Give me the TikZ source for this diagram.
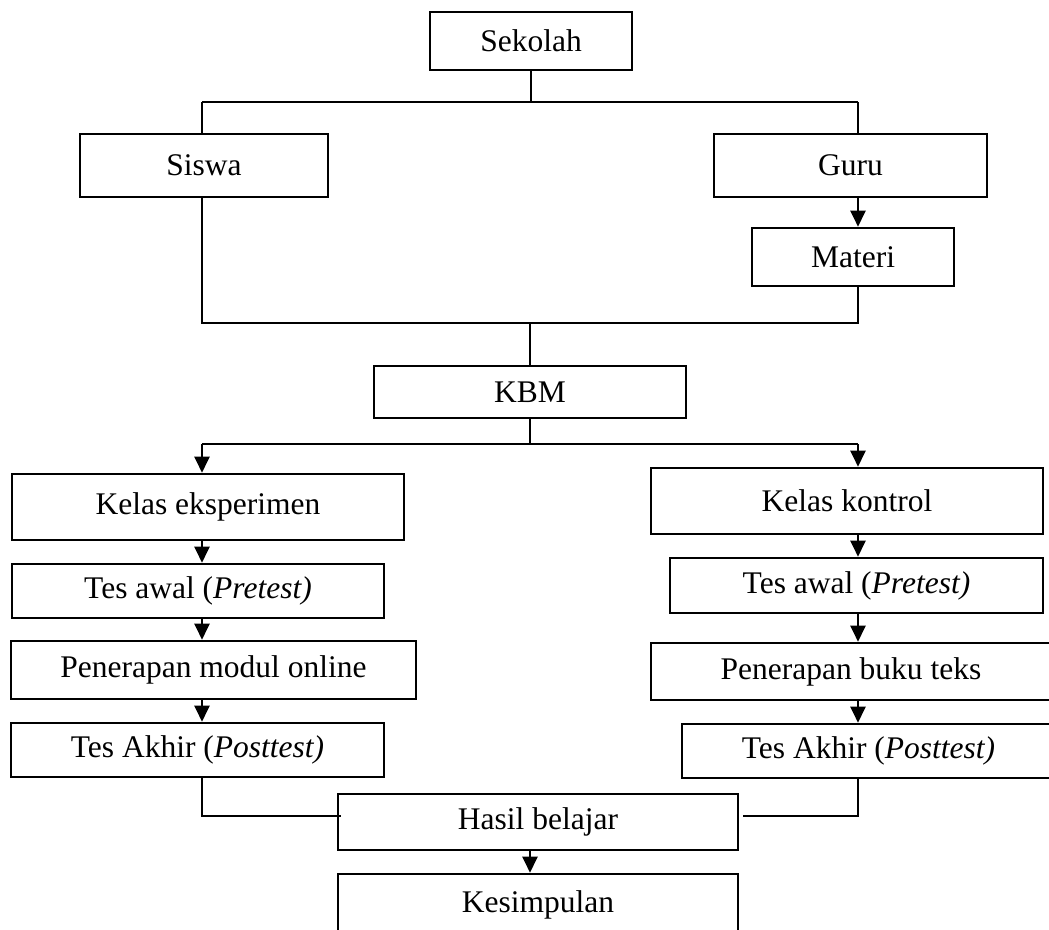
\documentclass[tikz,border=0pt]{standalone}
\usepackage{fontspec}
\setmainfont{Liberation Serif}
\usetikzlibrary{arrows.meta}
\begin{document}
\begin{tikzpicture}[x=1pt,y=-1pt,
  box/.style={draw, line width=2.6pt, inner sep=0pt, align=center,
    font=\fontsize{31.5}{36}\selectfont},
  conn/.style={line width=2.2pt},
  arr/.style={line width=2.2pt, -{Triangle[length=16pt,width=15pt]}}]
\useasboundingbox (0,0) rectangle (1049,929);
% boxes
\node[box, minimum width=202, minimum height=58] (sekolah) at (531,41) {Sekolah};
\node[box, minimum width=248, minimum height=63] (siswa) at (204,165.5) {Siswa};
\node[box, minimum width=273, minimum height=63] (guru) at (850.5,165.5) {Guru};
\node[box, minimum width=202, minimum height=58] (materi) at (853,257) {Materi};
\node[box, minimum width=312, minimum height=52] (kbm) at (530,392) {KBM};
\node[box, minimum width=392, minimum height=66] (kelasE) at (208,507) {Kelas eksperimen};
\node[box, minimum width=392, minimum height=66] (kelasK) at (847,501) {Kelas kontrol};
\node[box, minimum width=372, minimum height=54] (preE) at (198,591) {Tes awal (\textit{Pretest)}};
\node[box, minimum width=373, minimum height=55] (preK) at (856.5,585.5) {Tes awal (\textit{Pretest)}};
\node[box, minimum width=405, minimum height=58] (penE) at (213.5,670) {Penerapan modul online};
\node[box, minimum width=400, minimum height=57] (penK) at (851,671.5) {Penerapan buku teks};
\node[box, minimum width=373, minimum height=54] (postE) at (197.5,750) {Tes Akhir (\textit{Posttest)}};
\node[box, minimum width=373, minimum height=54] (postK) at (868.5,751) {Tes Akhir (\textit{Posttest)}};
\node[box, minimum width=400, minimum height=56] (hasil) at (538,822) {Hasil belajar};
\node[box, minimum width=400, minimum height=62] (kesimpulan) at (538,905) {Kesimpulan};
% junction coordinates
\coordinate (j1) at (531,102);
\coordinate (jl1) at (202,102);
\coordinate (jr1) at (858,102);
\coordinate (j2) at (530,323);
\coordinate (jl2) at (202,323);
\coordinate (jr2) at (858,323);
\coordinate (j3) at (530,444);
\coordinate (jl3) at (202,444);
\coordinate (jr3) at (858,444);
\coordinate (jl4) at (202,816);
\coordinate (jr4) at (858,816);
% connectors top
\draw[conn] (sekolah.south) -- (j1);
\draw[conn] (jl1) -- (jr1);
\draw[conn] (jl1) -- (jl1 |- siswa.north);
\draw[conn] (jr1) -- (jr1 |- guru.north);
\draw[arr] (jr1 |- guru.south) -- (jr1 |- materi.north);
\draw[conn] (jl1 |- siswa.south) -- (jl2) -- (jr2) -- (jr1 |- materi.south);
\draw[conn] (j2) -- (kbm.north -| j2);
% KBM split
\draw[conn] (kbm.south -| j3) -- (j3);
\draw[conn] (jl3) -- (jr3);
\draw[arr] (jl3) -- (jl3 |- kelasE.north);
\draw[arr] (jr3) -- (jr3 |- kelasK.north);
% left column
\draw[arr] (jl3 |- kelasE.south) -- (jl3 |- preE.north);
\draw[arr] (jl3 |- preE.south) -- (jl3 |- penE.north);
\draw[arr] (jl3 |- penE.south) -- (jl3 |- postE.north);
% right column
\draw[arr] (jr3 |- kelasK.south) -- (jr3 |- preK.north);
\draw[arr] (jr3 |- preK.south) -- (jr3 |- penK.north);
\draw[arr] (jr3 |- penK.south) -- (jr3 |- postK.north);
% to hasil
\draw[conn] (jl3 |- postE.south) -- (jl4) -- ([shift={(4,-6)}]hasil.west);
\draw[conn] (jr3 |- postK.south) -- (jr4) -- ([shift={(4,-6)}]hasil.east);
\draw[arr] (hasil.south -| j2) -- (kesimpulan.north -| j2);
\end{tikzpicture}
\end{document}
